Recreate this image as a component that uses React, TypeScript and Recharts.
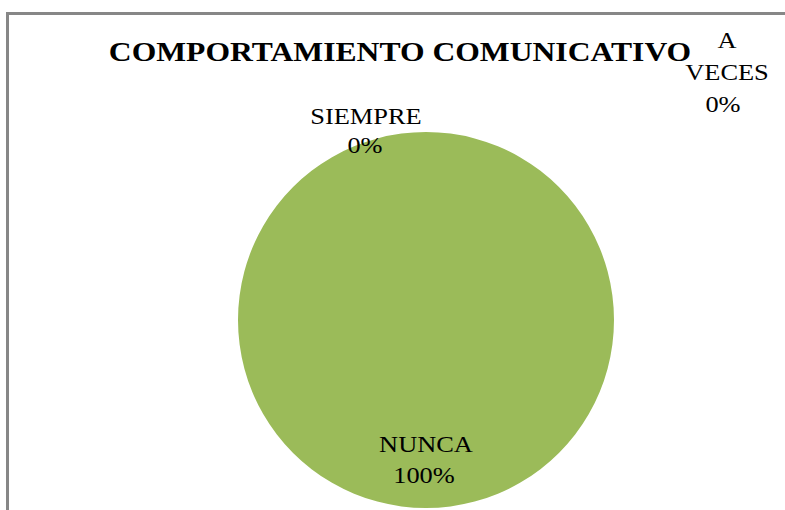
import React from "react";
import { PieChart, Pie, Cell } from "recharts";

const categories = ["SIEMPRE", "A VECES", "NUNCA"];
const values = [0, 0, 100];
const percentLabels = ["0%", "0%", "100%"];
const chartTitle = "COMPORTAMIENTO COMUNICATIVO";

const data = categories.map((name, i) => ({ name, value: values[i], pct: percentLabels[i] }));

const colors = ["#4F81BD", "#C0504D", "#9BBB59"];
const SERIF = "'Liberation Serif', 'Times New Roman', serif";
const STRETCH = 1.1;

// label placement (offsets from pie centre): lines of text with baselines
const labelLayout: { dx: number; lines: { text: (d: any) => string; dy: number; dx?: number }[] }[] = [
  {
    dx: -60,
    lines: [
      { text: (d) => d.name, dy: -196 },
      { text: (d) => d.pct, dy: -167, dx: -1 },
    ],
  },
  {
    dx: 301,
    lines: [
      { text: () => "A", dy: -272 },
      { text: () => "VECES", dy: -240 },
      { text: (d) => d.pct, dy: -208, dx: -4 },
    ],
  },
  {
    dx: 0,
    lines: [
      { text: (d) => d.name, dy: 132 },
      { text: (d) => d.pct, dy: 163, dx: -2 },
    ],
  },
];

const renderLabel = (props: any) => {
  const { cx, cy, index, payload } = props;
  const d = payload && payload.payload ? payload.payload : payload;
  const layout = labelLayout[index];
  if (!layout) return null;
  return (
    <g key={`lbl-${index}`}>
      {layout.lines.map((ln, j) => (
        <text
          key={j}
          x={0}
          y={0}
          transform={`translate(${cx + layout.dx + (ln.dx || 0)},${cy + ln.dy}) scale(${STRETCH},1)`}
          textAnchor="middle"
          fontFamily={SERIF}
          fontSize={24}
          fill="#000"
        >
          {ln.text(d)}
        </text>
      ))}
    </g>
  );
};

export default function App() {
  return (
    <div
      style={{
        position: "absolute",
        left: 0,
        top: 0,
        width: 785,
        height: 510,
        overflow: "hidden",
        background: "#fff",
      }}
    >
      <div
        style={{
          position: "absolute",
          left: 6,
          top: 12,
          width: 900,
          height: 600,
          borderTop: "3px solid #878787",
          borderLeft: "3px solid #878787",
          boxSizing: "border-box",
        }}
      />
      <div style={{ position: "absolute", left: 0, top: 0, width: 785, height: 510 }}>
        <PieChart width={785} height={510} margin={{ top: 0, right: 0, bottom: 0, left: 0 }}>
          <Pie
            data={data}
            dataKey="value"
            nameKey="name"
            cx={426}
            cy={320}
            outerRadius={188}
            startAngle={90}
            endAngle={-270}
            stroke="none"
            labelLine={false}
            label={renderLabel}
            isAnimationActive={false}
          >
            {data.map((_, i) => (
              <Cell key={i} fill={colors[i]} />
            ))}
          </Pie>
        </PieChart>
      </div>
      <svg
        width={785}
        height={510}
        style={{ position: "absolute", left: 0, top: 0, pointerEvents: "none" }}
      >
        <text
          x={0}
          y={0}
          transform={`translate(400,61) scale(1.13,1)`}
          textAnchor="middle"
          fontFamily={SERIF}
          fontWeight="bold"
          fontSize={28}
          fill="#000"
        >
          {chartTitle}
        </text>
      </svg>
    </div>
  );
}
